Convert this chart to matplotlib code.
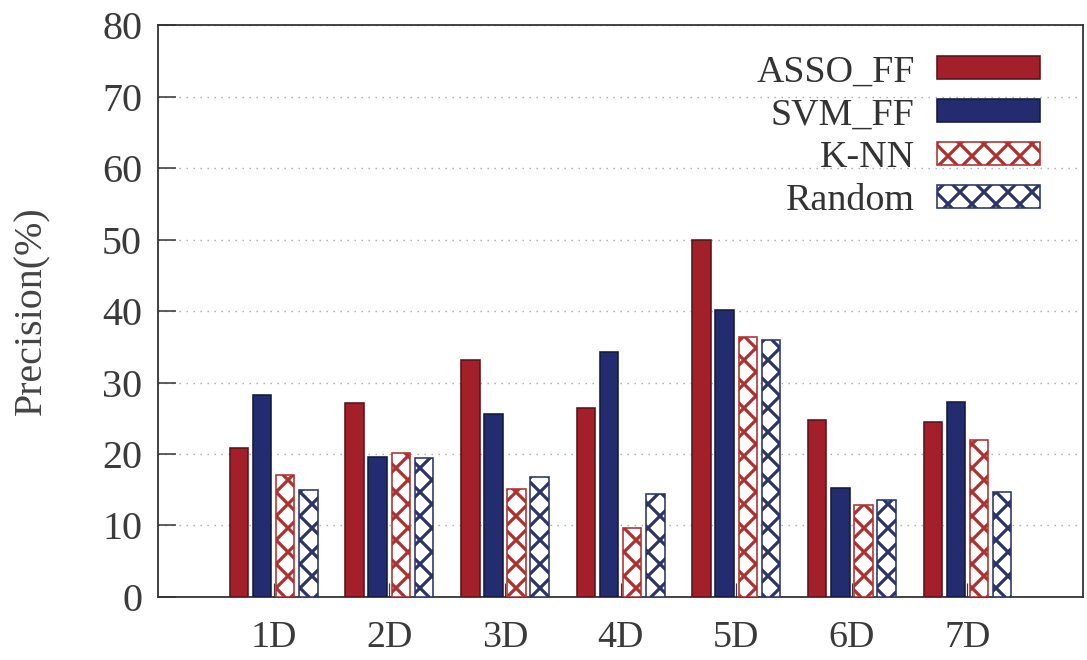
import matplotlib.pyplot as plt
import numpy as np

plt.rcParams["font.family"] = ["Liberation Serif", "DejaVu Serif"]
plt.rcParams["hatch.linewidth"] = 1.6

# data
days = ["1D", "2D", "3D", "4D", "5D", "6D", "7D"]
asso_ff = [20.9, 27.1, 33.2, 26.4, 50.0, 24.8, 24.5]
svm_ff = [28.2, 19.6, 25.6, 34.3, 40.2, 15.3, 27.3]
knn = [17.0, 20.2, 15.1, 9.6, 36.3, 12.9, 21.9]
random_ = [15.0, 19.4, 16.8, 14.4, 36.0, 13.5, 14.7]

fig = plt.figure(figsize=(1087 / 144, 660 / 144), dpi=144)
ax = fig.add_axes([0.1454, 0.0955, 0.851, 0.8665])

x = np.arange(1, len(days) + 1)
w = 0.16
ax.bar(x - 0.3, asso_ff, w, color="#a3202a", edgecolor="#5a1418", linewidth=0.8,
       label="ASSO_FF", zorder=3)
ax.bar(x - 0.1, svm_ff, w, color="#232c6e", edgecolor="#141a40", linewidth=0.8,
       label="SVM_FF", zorder=3)
ax.bar(x + 0.1, knn, w, color="white", edgecolor="#b0302f", hatch="xx",
       linewidth=0.8, label="K-NN", zorder=3)
ax.bar(x + 0.3, random_, w, color="white", edgecolor="#2b3566", hatch="xx",
       linewidth=0.8, label="Random", zorder=3)

ax.set_xlim(0, 8)
ax.set_ylim(0, 80)
ax.set_xticks(x)
ax.set_xticklabels(days)
ax.set_yticks(range(0, 81, 10))
ax.tick_params(axis="both", direction="in", labelsize=19, colors="#3a3a3a")
ax.tick_params(axis="y", length=9, width=0.8, pad=8, labelsize=20)
ax.tick_params(axis="x", length=7, width=0.6, pad=12)
ax.yaxis.grid(True, linestyle=(0, (1, 4)), color="#a8a8a8", linewidth=0.7, zorder=0)
for s in ax.spines.values():
    s.set_color("#333333")
    s.set_linewidth(0.9)

ax.set_ylabel("Precision(%)", fontsize=20, color="#444444", labelpad=26)

ax.legend(loc="upper right", bbox_to_anchor=(0.9535, 0.948), frameon=False,
          markerfirst=False, fontsize=19, handlelength=2.7, handleheight=0.55,
          handletextpad=0.6, labelspacing=0.22, borderpad=0, borderaxespad=0,
          labelcolor="#333333")

fig.savefig("out.png", dpi=144)
